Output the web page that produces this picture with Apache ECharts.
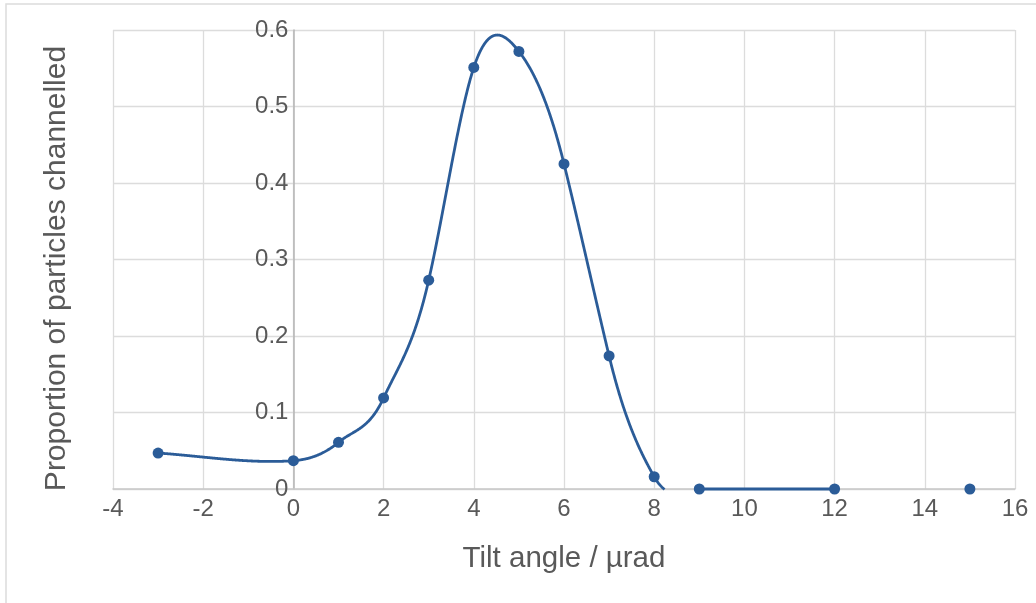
<!DOCTYPE html>
<html>
<head>
<meta charset="utf-8">
<script src="https://cdn.jsdelivr.net/npm/echarts@6/dist/echarts.min.js"></script>
<style>
html,body{margin:0;padding:0;background:#fff;}
#c{width:1036px;height:603px;}
</style>
</head>
<body>
<div id="c"></div>
<script>
// Tilt angle (µrad) and proportion channelled — points joined by the fitted curve
const tiltAngles = [-3, 0, 1, 2, 3, 4, 5, 6, 7, 8, 9, 12];
const proportions = [0.047, 0.037, 0.061, 0.119, 0.273, 0.551, 0.572, 0.425, 0.174, 0.016, 0, 0];
// isolated measurement not joined to the curve
const loneAngles = [15];
const loneProportions = [0];

const xTickMin = -4, xTickMax = 16, xTickStep = 2;
const yTickMin = 0, yTickMax = 0.6, yTickStep = 0.1;

const xTitle = 'Tilt angle / µrad';
const yTitle = 'Proportion of particles channelled';

const blue = '#2b5c98';
const textColor = '#595959';
const font = 'Liberation Sans, Arial, sans-serif';

const W = 1036, gridLeft = 113, gridRight = 21;
const gridWidth = W - gridLeft - gridRight;
// put the y axis on x = 0
const yAxisOffset = -((0 - xTickMin) / (xTickMax - xTickMin)) * gridWidth;

// cardinal (Catmull-Rom style) Hermite curve through the data (drawing helper)
const tension = 1.2;
function hermiteCurve(xs, ys) {
  const n = xs.length, m = [];
  for (let i = 0; i < n; i++) {
    const a = Math.max(0, i - 1), b = Math.min(n - 1, i + 1);
    const flat = (i > 0 && ys[i] === ys[i - 1]) || (i < n - 1 && ys[i] === ys[i + 1]);
    m.push(flat ? 0 : tension * (ys[b] - ys[a]) / (xs[b] - xs[a]));
  }
  return function (x) {
    let i = 0;
    while (i < n - 2 && x > xs[i + 1]) i++;
    const h = xs[i + 1] - xs[i], t = (x - xs[i]) / h;
    const t2 = t * t, t3 = t2 * t;
    return (2 * t3 - 3 * t2 + 1) * ys[i] + (t3 - 2 * t2 + t) * h * m[i] +
           (-2 * t3 + 3 * t2) * ys[i + 1] + (t3 - t2) * h * m[i + 1];
  };
}
const curve = hermiteCurve(tiltAngles, proportions);

const chart = echarts.init(document.getElementById('c'));
chart.setOption({
  animation: false,
  backgroundColor: '#fff',
  graphic: [{
    type: 'rect', silent: true,
    shape: {x: 6, y: 4, width: 1200, height: 800},
    style: {fill: 'none', stroke: '#dcdcdc', lineWidth: 1.5}
  }],
  grid: {left: gridLeft, right: gridRight, top: 30, bottom: 114, containLabel: false, outerBoundsMode: 'none'},
  xAxis: {
    type: 'value', min: xTickMin, max: xTickMax, interval: xTickStep,
    name: xTitle, nameLocation: 'middle', nameGap: 55,
    nameTextStyle: {fontSize: 29.5, color: textColor, fontFamily: font},
    axisLine: {show: true, onZero: false, lineStyle: {color: '#c8c8c8', width: 1.5}},
    axisTick: {show: false},
    axisLabel: {fontSize: 24, color: textColor, fontFamily: font, margin: 8},
    splitLine: {show: true, lineStyle: {color: '#dcdcdc', width: 1.3}}
  },
  yAxis: {
    type: 'value', min: yTickMin, max: yTickMax, interval: yTickStep,
    offset: yAxisOffset,
    name: yTitle, nameLocation: 'middle', nameGap: 222,
    nameTextStyle: {fontSize: 30, color: textColor, fontFamily: font, padding: [0, 18, 0, 0]},
    axisLine: {show: true, onZero: false, lineStyle: {color: '#b4b4b4', width: 1.5}},
    axisTick: {show: false},
    axisLabel: {fontSize: 24, color: textColor, fontFamily: font, margin: 5,
      formatter: v => String(Math.round(v * 10) / 10)},
    splitLine: {show: true, lineStyle: {color: '#dcdcdc', width: 1.3}}
  },
  series: [{
    type: 'custom',
    clip: false,
    data: tiltAngles.map((x, i) => [x, proportions[i]]),
    renderItem: function (params, api) {
      if (params.dataIndex !== 0) return null;
      const x0 = tiltAngles[0], x1 = tiltAngles[tiltAngles.length - 1];
      const floorPx = api.coord([x0, yTickMin])[1] + 0.5;
      const segments = [];
      let cur = [];
      const steps = 1500;
      for (let k = 0; k <= steps; k++) {
        const x = x0 + (x1 - x0) * k / steps;
        const p = api.coord([x, curve(x)]);
        if (p[1] <= floorPx) {
          cur.push(p);
        } else if (cur.length) {
          segments.push(cur); cur = [];
        }
      }
      if (cur.length) segments.push(cur);
      return {
        type: 'group',
        children: segments.map(s => ({
          type: 'polyline',
          shape: {points: s},
          style: {fill: 'none', stroke: blue, lineWidth: 2.8, lineJoin: 'round', lineCap: 'butt'}
        }))
      };
    },
    z: 2
  }, {
    type: 'scatter',
    data: tiltAngles.map((x, i) => [x, proportions[i]])
      .concat(loneAngles.map((x, i) => [x, loneProportions[i]])),
    symbol: 'circle', symbolSize: 11,
    itemStyle: {color: blue, opacity: 1},
    z: 3
  }]
});
</script>
</body>
</html>
